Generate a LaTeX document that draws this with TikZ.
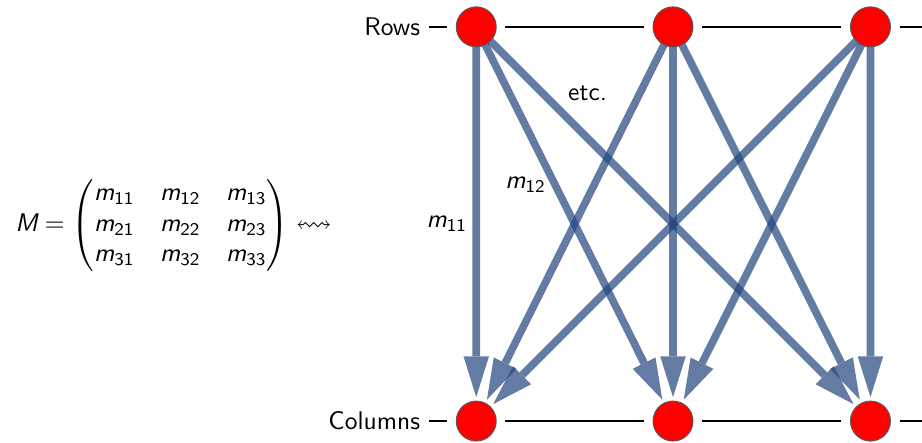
\documentclass[tikz,border=0pt]{standalone}
\usepackage{amsmath}
\usepackage{amssymb}
\usetikzlibrary{arrows.meta,positioning,backgrounds}
\DeclareMathAlphabet{\msfit}{TU}{lmss}{m}{sl}
\newcommand\mentry[1]{\msfit{m}_{\mathsf{#1}}}
\definecolor{flowblue}{RGB}{34,69,126}
\tikzset{
  vertex/.style={circle,fill=red,draw=black!65,line width=0.4pt,minimum size=0.55cm,inner sep=0pt,outer sep=0.125cm},
  rail/.style={line width=0.8pt},
  flow/.style={draw=flowblue,line width=3pt,-{Triangle[length=16pt,width=10pt,line width=0pt]},shorten >=0.33cm}
}

\begin{document}
\begin{tikzpicture}[font=\sffamily]
  \useasboundingbox(0,0)rectangle(12.70,6.09);
  \node at(2.39,2.99)(mat){$\msfit{M}=\begin{pmatrix}\mentry{11}&\mentry{12}&\mentry{13}\\\mentry{21}&\mentry{22}&\mentry{23}\\\mentry{31}&\mentry{32}&\mentry{33}\end{pmatrix}\leftrightsquigarrow$};
  \foreach \i/\x in {1/6.56,2/9.27,3/11.99}{
    \node[vertex]at(\x,5.72)(t\i){};
    \node[vertex]at(\x,0.29)(b\i){};
  }
  \node[left=0.25cm of t1](rows){Rows};
  \node[left=0.25cm of b1](cols){Columns};
  \coordinate(tend)at(13.2,5.72);
  \coordinate(bend)at(13.2,0.29);
  \draw[rail](rows)--(t1)--(t2)--(t3)--(tend);
  \draw[rail](cols)--(b1)--(b2)--(b3)--(bend);
  \begin{scope}[on background layer]
    \foreach \i in {1,2,3}{\foreach \j in {1,2,3}{
      \begin{scope}[transparency group,opacity=0.7]
        \draw[flow](t\i.center)--(b\j.center);
      \end{scope}
    }}
  \end{scope}
  \path(t1.center)--(b1.center)node[midway,left](l11){$\mentry{11}$};
  \path(t1.center)--(b2.center)node[pos=0.4,left](l12){$\mentry{12}$};
  \path(t1.center)--(b3.center)node[pos=0.21,above right](etc){etc.};
\end{tikzpicture}
\end{document}
